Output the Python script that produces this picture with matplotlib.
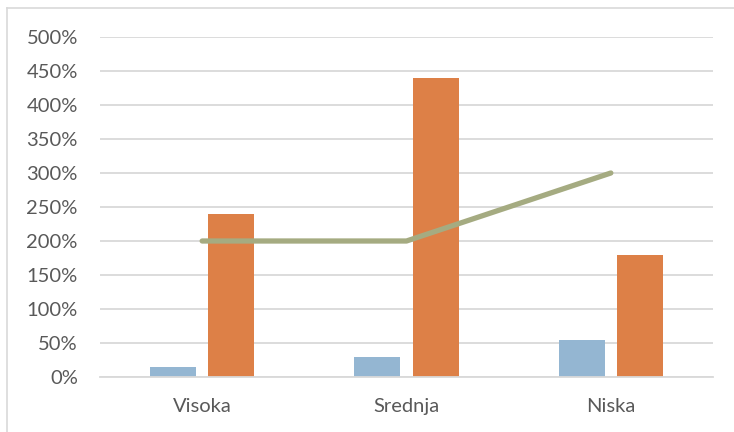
import matplotlib
matplotlib.use("Agg")
import matplotlib.pyplot as plt
from matplotlib.lines import Line2D
import numpy as np

categories = ["Visoka", "Srednja", "Niska"]
series_blue = [15, 30, 55]
series_orange = [240, 440, 180]
series_line = [200, 200, 300]
yticks = [0, 50, 100, 150, 200, 250, 300, 350, 400, 450, 500]
ytick_labels = [f"{v}%" for v in yticks]

plt.rcParams['font.family'] = ['Lato', 'DejaVu Sans']
text_color = "#595959"

fig = plt.figure(figsize=(7.34, 4.32), dpi=100)
ax = fig.add_axes([100/734, 1 - 377/432, 613/734, 340/432])

x = np.arange(len(categories))
w = 0.226
off = 0.143
ax.bar(x - off, series_blue, width=w, color="#94B6D2", zorder=2)
ax.bar(x + off, series_orange, width=w, color="#DD8047", zorder=2)
ax.plot(x, series_line, color="#A5AB81", linewidth=3.8, solid_capstyle="round",
        solid_joinstyle="round", zorder=3)

ax.set_xlim(-0.5, 2.5)
ax.set_ylim(0, 500)
ax.set_yticks(yticks)
ax.set_yticklabels(ytick_labels)
ax.set_xticks(x)
ax.set_xticklabels(categories)
ax.yaxis.grid(True, color="#D9D9D9", linewidth=1.3, zorder=0)
ax.set_axisbelow(True)
for s in ["top", "right", "left"]:
    ax.spines[s].set_visible(False)
ax.spines["bottom"].set_color("#D9D9D9")
ax.spines["bottom"].set_linewidth(1.3)
ax.tick_params(axis="both", length=0, labelsize=14.5, colors=text_color)
ax.tick_params(axis="y", pad=16)
ax.tick_params(axis="x", pad=15)

# chart area border (only top and left visible)
fig.add_artist(Line2D([7/734, 1], [1 - 8/432, 1 - 8/432], transform=fig.transFigure,
                      color="#D9D9D9", linewidth=1.2))
fig.add_artist(Line2D([7/734, 7/734], [0, 1 - 8/432], transform=fig.transFigure,
                      color="#D9D9D9", linewidth=1.2))

fig.savefig("out.png", dpi=100)
